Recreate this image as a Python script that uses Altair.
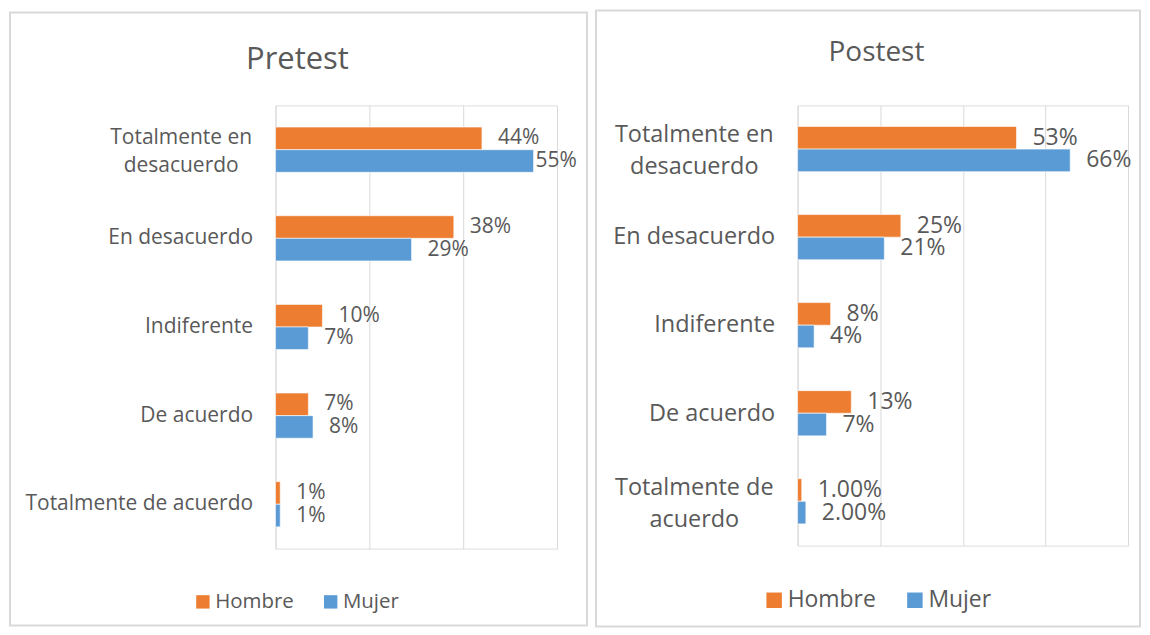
import altair as alt
import pandas as pd

categories = ["Totalmente en desacuerdo", "En desacuerdo", "Indiferente",
              "De acuerdo", "Totalmente de acuerdo"]
series = ["Hombre", "Mujer"]

pre_hombre = [44, 38, 10, 7, 1]
pre_mujer = [55, 29, 7, 8, 1]
pre_hombre_labels = ["44%", "38%", "10%", "7%", "1%"]
pre_mujer_labels = ["55%", "29%", "7%", "8%", "1%"]

post_hombre = [53, 25, 8, 13, 1]
post_mujer = [66, 21, 4, 7, 2]
post_hombre_labels = ["53%", "25%", "8%", "13%", "1.00%"]
post_mujer_labels = ["66%", "21%", "4%", "7%", "2.00%"]

pre_ticks = [0, 20, 40, 60]
post_ticks = [0, 20, 40, 60, 80]

pre_wrapped = ["Totalmente en desacuerdo"]
post_wrapped = ["Totalmente en desacuerdo", "Totalmente de acuerdo"]

colors = ["#ED7D31", "#5B9BD5"]
TXT = "#595959"
GRID = "#D9D9D9"
FONT = "Open Sans"


def make_df(h, m, hl, ml):
    rows = []
    for i, c in enumerate(categories):
        rows.append(dict(cat=c, serie="Hombre", v=h[i], label=hl[i]))
        rows.append(dict(cat=c, serie="Mujer", v=m[i], label=ml[i]))
    return pd.DataFrame(rows)


def wrap_expr(wrapped):
    expr = "datum.value"
    for name in wrapped:
        words = name.split(" ")
        first = " ".join(words[:2])
        rest = " ".join(words[2:])
        expr = f"datum.value == '{name}' ? ['{first}', '{rest}'] : ({expr})"
    return expr


def panel(df, title, ticks, wrapped, w, h, lab_size, val_size, line_h,
          wrap_pad, pad_inner, clamp, title_x, title_y, title_size,
          border, leg_x, leg_y, leg_size, sym_size, col_pad):
    test = " || ".join(f"datum.value == '{n}'" for n in wrapped)
    xscale = alt.Scale(domain=[ticks[0], ticks[-1]], nice=False)
    xaxis = alt.Axis(title=None, labels=False, ticks=False, domain=False,
                     values=ticks, grid=True, gridColor=GRID, gridWidth=1)
    yenc = alt.Y("cat:N", sort=categories,
                 scale=alt.Scale(paddingInner=pad_inner, paddingOuter=pad_inner / 2),
                 axis=alt.Axis(
                     title=None, domain=False, ticks=False,
                     labelAlign={"condition": {"test": test, "value": "center"},
                                 "value": "right"},
                     labelPadding={"condition": {"test": test, "value": wrap_pad},
                                   "value": 23},
                     labelOffset={"condition": {"test": test, "value": -line_h / 2 + 2},
                                  "value": 0},
                     labelFontSize=lab_size, labelColor=TXT, labelFont=FONT,
                     labelLimit=400, labelLineHeight=line_h,
                     labelExpr=wrap_expr(wrapped)))
    yoff = alt.YOffset("serie:N", sort=series,
                       scale=alt.Scale(paddingInner=0, paddingOuter=0))

    frame = alt.Chart(alt.Data(values=[{"k": 1}])).mark_rect(
        filled=False, stroke=GRID, strokeWidth=2
    ).encode(x=alt.value(border[0]), x2=alt.value(border[1]),
             y=alt.value(border[2]), y2=alt.value(border[3]))

    ttl = alt.Chart(pd.DataFrame({"t": [title]})).mark_text(
        font=FONT, fontSize=title_size, color=TXT, align="center",
        baseline="alphabetic"
    ).encode(text="t:N", x=alt.value(title_x), y=alt.value(title_y))

    bars = alt.Chart(df).mark_bar(stroke="white", strokeWidth=0.6).encode(
        x=alt.X("v:Q", scale=xscale, axis=xaxis),
        y=yenc,
        yOffset=yoff,
        color=alt.Color("serie:N", sort=series,
                        scale=alt.Scale(domain=series, range=colors),
                        legend=alt.Legend(
                            title=None, orient="none", legendX=leg_x,
                            legendY=leg_y, direction="horizontal",
                            labelFontSize=leg_size, labelColor=TXT,
                            labelFont=FONT, symbolType="square",
                            symbolSize=sym_size, symbolStrokeWidth=0,
                            labelOffset=2, columnPadding=col_pad, padding=0)),
    )

    labels = alt.Chart(df).transform_calculate(
        lx=f"min(datum.v, {clamp})"
    ).mark_text(align="left", baseline="middle", dx=16, font=FONT,
                fontSize=val_size, color=TXT).encode(
        x=alt.X("lx:Q", scale=xscale, axis=xaxis),
        y=yenc,
        yOffset=yoff,
        text="label:N",
    )

    return alt.layer(frame, ttl, bars, labels).properties(width=w, height=h)


left = panel(make_df(pre_hombre, pre_mujer, pre_hombre_labels, pre_mujer_labels),
             "Pretest", pre_ticks, pre_wrapped, 282, 444, 21, 21, 28, 95,
             0.49, 52, 22, -36, 31,
             (-266, 312, -93, 521), -83, 487, 20.5, 180, 26)

right = panel(make_df(post_hombre, post_mujer, post_hombre_labels, post_mujer_labels),
              "Postest", post_ticks, post_wrapped, 331, 441, 23.5, 23, 32, 104,
              0.48, 80, 79, -44, 28,
              (-202, 343, -95, 522), -35, 484, 23, 240, 27)

chart = alt.hconcat(left, right, spacing=241, bounds="flush").resolve_scale(
    color="independent"
).resolve_legend(color="independent").properties(
    padding=0
).configure_view(stroke=None).configure(font=FONT)

chart.save("out.html", embed_options={"renderer": "svg", "actions": False})
